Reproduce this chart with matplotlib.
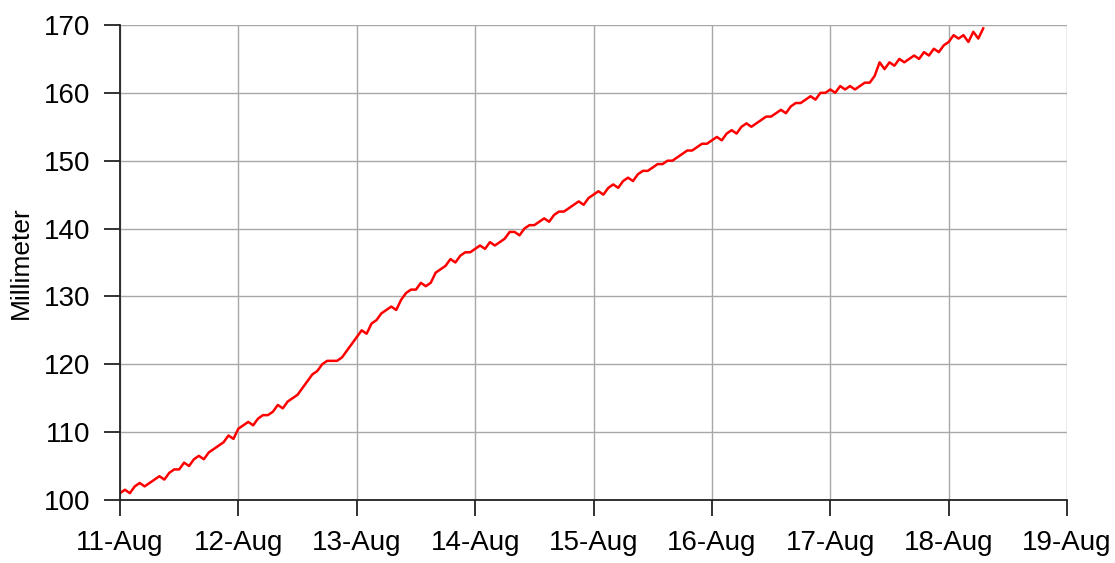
import matplotlib.pyplot as plt
import matplotlib.dates as mdates
import pandas as pd

# hourly readings (mm), starting 11-Aug 00:00
day_11 = [101.0, 101.5, 101.0, 102.0, 102.5, 102.0, 102.5, 103.0, 103.5, 103.0, 104.0, 104.5,
          104.5, 105.5, 105.0, 106.0, 106.5, 106.0, 107.0, 107.5, 108.0, 108.5, 109.5, 109.0]
day_12 = [110.5, 111.0, 111.5, 111.0, 112.0, 112.5, 112.5, 113.0, 114.0, 113.5, 114.5, 115.0,
          115.5, 116.5, 117.5, 118.5, 119.0, 120.0, 120.5, 120.5, 120.5, 121.0, 122.0, 123.0]
day_13 = [124.0, 125.0, 124.5, 126.0, 126.5, 127.5, 128.0, 128.5, 128.0, 129.5, 130.5, 131.0,
          131.0, 132.0, 131.5, 132.0, 133.5, 134.0, 134.5, 135.5, 135.0, 136.0, 136.5, 136.5]
day_14 = [137.0, 137.5, 137.0, 138.0, 137.5, 138.0, 138.5, 139.5, 139.5, 139.0, 140.0, 140.5,
          140.5, 141.0, 141.5, 141.0, 142.0, 142.5, 142.5, 143.0, 143.5, 144.0, 143.5, 144.5]
day_15 = [145.0, 145.5, 145.0, 146.0, 146.5, 146.0, 147.0, 147.5, 147.0, 148.0, 148.5, 148.5,
          149.0, 149.5, 149.5, 150.0, 150.0, 150.5, 151.0, 151.5, 151.5, 152.0, 152.5, 152.5]
day_16 = [153.0, 153.5, 153.0, 154.0, 154.5, 154.0, 155.0, 155.5, 155.0, 155.5, 156.0, 156.5,
          156.5, 157.0, 157.5, 157.0, 158.0, 158.5, 158.5, 159.0, 159.5, 159.0, 160.0, 160.0]
day_17 = [160.5, 160.0, 161.0, 160.5, 161.0, 160.5, 161.0, 161.5, 161.5, 162.5, 164.5, 163.5,
          164.5, 164.0, 165.0, 164.5, 165.0, 165.5, 165.0, 166.0, 165.5, 166.5, 166.0, 167.0]
day_18 = [167.5, 168.5, 168.0, 168.5, 167.5, 169.0, 168.0, 169.5]

values = day_11 + day_12 + day_13 + day_14 + day_15 + day_16 + day_17 + day_18
times = pd.date_range('2023-08-11 00:00', periods=len(values), freq='h')

plt.rcParams['font.family'] = ['Liberation Sans', 'DejaVu Sans']

fig = plt.figure(figsize=(11.15, 5.63), dpi=100)
ax = fig.add_axes([0.1076, 0.112, 0.8494, 0.8436])

ax.plot(times, values, color='red', linewidth=1.8)

ax.set_xlim(pd.Timestamp('2023-08-11'), pd.Timestamp('2023-08-19'))
ax.set_ylim(100, 170)
ax.set_yticks(range(100, 171, 10))
ax.xaxis.set_major_locator(mdates.DayLocator())
ax.xaxis.set_major_formatter(mdates.DateFormatter('%d-%b'))

ax.grid(True, color='#a8a8a8', linewidth=1)
ax.set_axisbelow(True)
for side in ['top', 'right']:
    ax.spines[side].set_visible(False)
for side in ['left', 'bottom']:
    ax.spines[side].set_color('#222222')
    ax.spines[side].set_linewidth(1.3)

ax.tick_params(direction='out', length=11.5, width=1.3, color='#222222', labelsize=20)
ax.tick_params(axis='x', pad=10)
ax.tick_params(axis='y', pad=10)
ax.set_ylabel('Millimeter', fontsize=19, labelpad=8)

fig.savefig('out.png', dpi=100)
